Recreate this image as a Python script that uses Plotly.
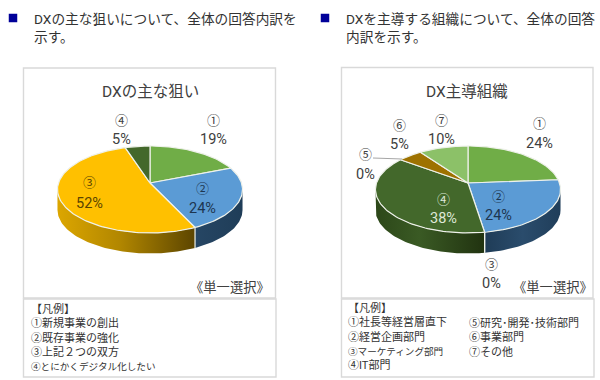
import math
import plotly.graph_objects as go

# ---- data ----
left_title = "DXの主な狙い"
left_categories = ["①", "②", "③", "④"]
left_values = [19, 24, 52, 5]
left_legend = ["【凡例】", "①新規事業の創出", "②既存事業の強化", "③上記２つの双方", "④とにかくデジタル化したい"]

right_title = "DX主導組織"
right_categories = ["①", "②", "③", "④", "⑤", "⑥", "⑦"]
right_values = [24, 24, 0, 38, 0, 5, 10]
right_legend_a = ["【凡例】", "①社長等経営層直下", "②経営企画部門", "③マーケティング部門", "④IT部門"]
right_legend_b = ["⑤研究･開発･技術部門", "⑥事業部門", "⑦その他"]

left_header = ["DXの主な狙いについて、全体の回答内訳を", "示す。"]
right_header = ["DXを主導する組織について、全体の回答", "内訳を示す。"]
note_text = "《単一選択》"

# ---- styles / placement ----
W, H = 600, 380
FONT = "Roboto, 'Noto Sans CJK JP'"
TXT = "#404040"
PERSP = 0.149
A, B, DEPTH = 42.5, 91.5, 20.5
EDGE = "#eef1ea"

left_colors = ["#70ad47", "#5b9bd5", "#ffc000", "#43682b"]
left_walls = [None,
              [[0, "#264664"], [1, "#1f3d58"]],
              [[0, "#dca600"], [0.45, "#b28700"], [1, "#5c4500"]],
              None]
right_colors = ["#70ad47", "#5b9bd5", "#a5a5a5", "#43682b", "#264478", "#9e7200", "#8cc168"]
right_walls = [None,
               [[0, "#1f3c57"], [0.5, "#2a4c6c"], [1, "#203e5a"]],
               None,
               [[0, "#2c4719"], [0.4, "#3a5a24"], [1, "#213310"]],
               None, None, None]
left_label_pos = [(213, 120, 139), (202, 188, 208), (89, 182, 203), (121, 120, 139)]
right_label_pos = [(539, 123, 143), (498, 196, 215), (491, 264, 283), (443, 199, 218),
                   (365, 154, 174), (399, 125, 144), (441, 120, 139)]
left_label_col = [TXT, "#1d3650", "#5a4400", TXT]
right_label_col = [TXT, "#1d3650", TXT, "#dfe8d8", TXT, TXT, TXT]


def project(cx, cy, deg):
    t = math.radians(deg)
    u, v = math.sin(t), math.cos(t)
    d = 1 + PERSP * v
    return cx + B * u / d, cy - A * v / d


def arc(cx, cy, a0, a1, drop=0.0):
    n = max(2, int(abs(a1 - a0) / 1.5) + 2)
    xs, ys = [], []
    for i in range(n):
        x, y = project(cx, cy, a0 + (a1 - a0) * i / (n - 1))
        xs.append(x)
        ys.append(y + drop)
    return xs, ys


fig = go.Figure()


def add_pie(cx, cy, values, colors, walls):
    total = sum(values)
    bounds = [0.0]
    for val in values:
        bounds.append(bounds[-1] + 360.0 * val / total)
    theta0 = math.degrees(math.acos(-PERSP))
    # side walls
    for i, val in enumerate(values):
        a0, a1 = max(bounds[i], theta0), min(bounds[i + 1], 360 - theta0)
        if val == 0 or a1 <= a0:
            continue
        xt, yt = arc(cx, cy, a0, a1)
        xb, yb = arc(cx, cy, a1, a0, DEPTH)
        fig.add_trace(go.Scatter(
            x=xt + xb + xt[:1], y=yt + yb + yt[:1], mode="lines", line=dict(width=0),
            fill="toself", fillcolor=colors[i],
            fillgradient=dict(type="horizontal", colorscale=walls[i]) if walls[i] else None,
            hoverinfo="skip", showlegend=False))
    # wall seams
    for b in bounds:
        if theta0 < b < 360 - theta0:
            x, y = project(cx, cy, b)
            fig.add_trace(go.Scatter(x=[x, x], y=[y, y + DEPTH], mode="lines",
                                     line=dict(color=EDGE, width=1.2),
                                     hoverinfo="skip", showlegend=False))
    # top faces
    for i, val in enumerate(values):
        if val == 0:
            continue
        xs, ys = arc(cx, cy, bounds[i], bounds[i + 1])
        fig.add_trace(go.Scatter(
            x=[cx] + xs + [cx], y=[cy] + ys + [cy], mode="lines",
            line=dict(color=EDGE, width=1.2), fill="toself", fillcolor=colors[i],
            hoverinfo="skip", showlegend=False))


shapes = []
annotations = []


def text(x, y, s, size, color=TXT, anchor="left"):
    annotations.append(dict(x=x, y=y, text=s, xref="x", yref="y", showarrow=False,
                            xanchor=anchor, yanchor="middle", align="left", borderpad=0,
                            font=dict(family=FONT, size=size, color=color)))


def box(x0, y0, x1, y1):
    shapes.append(dict(type="rect", x0=x0, y0=y0, x1=x1, y1=y1, xref="x", yref="y",
                       line=dict(color="#d9d9d9", width=1.4), fillcolor="white", layer="below"))


def legend_block(lines):
    # the reference font sets kana narrowly: long kana lines are drawn a little smaller
    out = []
    for line in lines:
        if any("ァ" <= ch <= "ヶ" for ch in line):
            out.append(f'<span style="font-size:9.6px">{line}</span>')
        else:
            out.append(line)
    return "<br>".join(out)


box(23.5, 68, 275.5, 298)
box(23.5, 299, 276, 377)
box(341.5, 67.5, 593, 298)
box(341.5, 299, 594, 377)

add_pie(150, 183, left_values, left_colors, left_walls)
add_pie(468, 183, right_values, right_colors, right_walls)

# leader line of the ⑤ label
fig.add_trace(go.Scatter(x=[373, 402], y=[158, 159], mode="lines",
                         line=dict(color="#a6a6a6", width=1), hoverinfo="skip", showlegend=False))

# header bullets
fig.add_trace(go.Scatter(x=[13, 325], y=[18, 18], mode="markers",
                         marker=dict(symbol="square", size=8.5, color="#000099"),
                         hoverinfo="skip", showlegend=False))

text(33, 28, "<br>".join(left_header), 13.7, "#333333")
text(345, 28, "<br>".join(right_header), 13.7, "#333333")

text(150, 92, left_title, 15.5, TXT, "center")
text(467, 92, right_title, 15.5, TXT, "center")

for cats, vals, pos, cols in [(left_categories, left_values, left_label_pos, left_label_col),
                              (right_categories, right_values, right_label_pos, right_label_col)]:
    for c, v, (x, y1, y2), col in zip(cats, vals, pos, cols):
        text(x, y1, c, 13, col, "center")
        text(x, y2, f"{v}%", 14.5, col, "center")

text(230, 287, note_text, 13.3, TXT, "center")
text(553, 287, note_text, 13.3, TXT, "center")

text(30, 336.5, legend_block(left_legend), 11, "#333333")
text(347, 336.5, legend_block(right_legend_a), 11, "#333333")
text(468, 337, legend_block(right_legend_b), 11, "#333333")

fig.update_layout(
    width=W, height=H, margin=dict(l=0, r=0, t=0, b=0),
    paper_bgcolor="white", plot_bgcolor="white", showlegend=False,
    xaxis=dict(range=[0, W], visible=False, fixedrange=True),
    yaxis=dict(range=[H, 0], visible=False, fixedrange=True),
    shapes=shapes, annotations=annotations,
)
fig.write_html("out.html", config={"displayModeBar": False},
               post_script="document.body.style.margin='0';document.body.style.overflow='hidden';")
